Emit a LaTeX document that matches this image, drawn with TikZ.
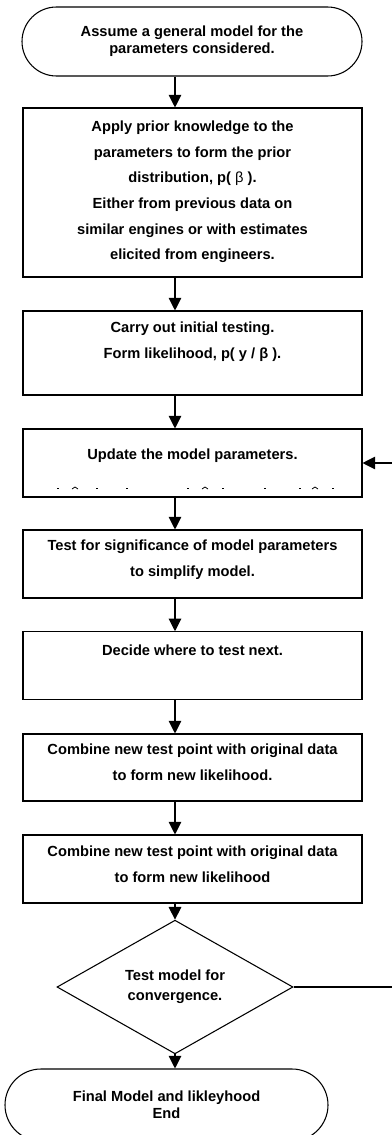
\documentclass[tikz,border=0pt]{standalone}
\usepackage{fontspec}
\setmainfont{Liberation Sans}
\usetikzlibrary{arrows.meta,shapes.geometric,shapes.misc}
\tikzset{
  stepbox/.style={draw,line width=0.8pt,minimum width=254.25pt,inner sep=0pt},
  txt/.style={font=\fontsize{11}{19.2}\selectfont\bfseries,align=center,inner sep=0pt},
  term/.style={draw,line width=0.8pt,rounded rectangle,align=center,inner sep=0pt,
    font=\fontsize{11}{12.8}\selectfont\bfseries},
  arr/.style={line width=0.8pt,-{Triangle[length=9.5pt,width=9.5pt]}},
}
\begin{document}
\begin{tikzpicture}[x=0.75pt,y=-0.75pt]
      \useasboundingbox (0,0) rectangle (392,1135);
      \coordinate (ax) at (175,0);
      \coordinate (loop) at (400,0);
      % start / end
      \node [term,minimum width=255pt,minimum height=51.75pt] (start) at (192,41.5)
        {Assume a general model for the\\parameters considered.};
      \node [term,minimum width=242.25pt,minimum height=54pt] (fin) at (166.5,1105)
        {Final Model and likleyhood\\End};
      % steps
      \node [stepbox,minimum height=126.75pt] (b1) at (192.5,192.5) {};
      \node [stepbox,minimum height=63pt] (b2) at (192.5,353) {};
      \node [stepbox,minimum height=51pt] (b3) at (192.5,463) {};
      \node [stepbox,minimum height=51pt] (b4) at (192.5,564) {};
      \node [stepbox,minimum height=50.6pt] (b5) at (192.5,665.5) {};
      \node [stepbox,minimum height=50.25pt] (b6) at (192.5,767.5) {};
      \node [stepbox,minimum height=51pt] (b7) at (192.5,869) {};
      \node [txt] (t1) at (192.5,192) {Apply prior knowledge to the\\parameters to form the prior\\
        distribution, p( {\mdseries β} ).\\Either from previous data on\\
        similar engines or with estimates\\elicited from engineers.};
      \node [txt] (t2) at (192.5,342) {Carry out initial testing.\\Form likelihood, p( y / β ).};
      \node [txt] (t3) at (192.5,456) {Update the model parameters.};
      \node [txt] (t4) at (192.5,560) {Test for significance of model parameters\\to simplify model.};
      \node [txt] (t5) at (192.5,650) {Decide where to test next.};
      \node [txt] (t6) at (192.5,762.5) {Combine new test point with original data\\to form new likelihood.};
      \node [txt] (t7) at (192.5,864.5) {Combine new test point with original data\\to form new likelihood};
      \foreach \mx in {58,97,127,188,223,265,300,333}
        \draw[line width=0.6pt] (\mx-1,488) -- (\mx+1,488);
      \foreach \mx in {75,205,315}
        \draw[line width=0.6pt] (\mx-3,489) -- (\mx,487) -- (\mx+3,489);
      % decision
      \node [draw,line width=0.8pt,diamond,minimum width=177pt,minimum height=75.75pt,
        inner sep=0pt,align=center,font=\fontsize{11}{15}\selectfont\bfseries] (test) at (175,987)
        {Test model for\\convergence.};
      % arrows
      \draw[arr] (start.south -| ax) -- (b1.north -| ax);
      \draw[arr] (b1.south -| ax) -- (b2.north -| ax);
      \draw[arr] (b2.south -| ax) -- (b3.north -| ax);
      \draw[arr] (b3.south -| ax) -- (b4.north -| ax);
      \draw[arr] (b4.south -| ax) -- (b5.north -| ax);
      \draw[arr] (b5.south -| ax) -- (b6.north -| ax);
      \draw[arr] (b6.south -| ax) -- (b7.north -| ax);
      \draw[arr] (b7.south -| ax) -- (test.north);
      \draw[arr] (test.south) -- (fin.north -| ax);
      \draw[arr] (test.east) -- (test.east -| loop) -- (b3.east -| loop) -- (b3.east);
\end{tikzpicture}
\end{document}
